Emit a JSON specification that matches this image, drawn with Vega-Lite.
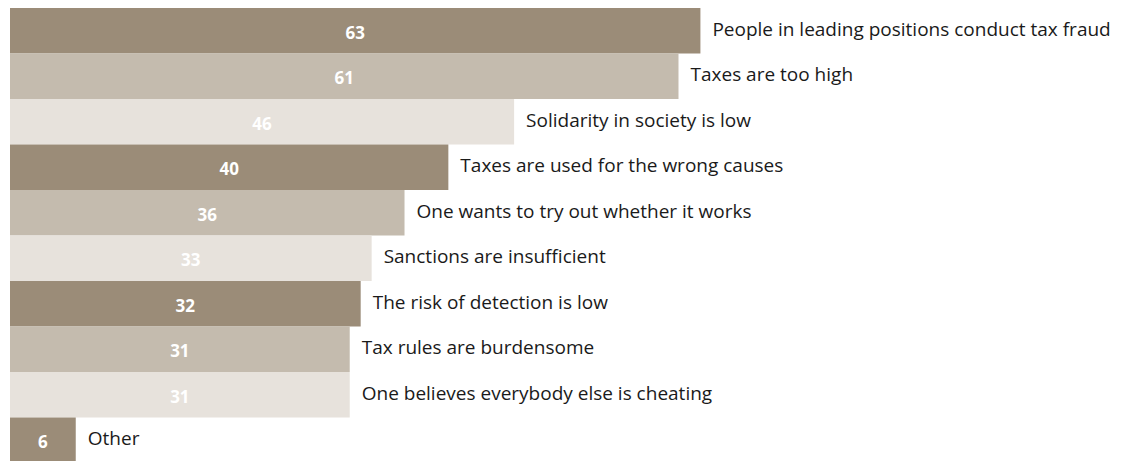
{
  "$schema": "https://vega.github.io/schema/vega-lite/v6.json",
  "width": 1120,
  "height": 455,
  "autosize": {"type": "none"},
  "padding": {"left": 10, "top": 8, "right": 0, "bottom": 0},
  "background": "white",
  "config": {"view": {"stroke": null}},
  "data": {
    "values": [
      {"order": 1, "label": "People in leading positions conduct tax fraud", "value": 63, "shade": "dark"},
      {"order": 2, "label": "Taxes are too high", "value": 61, "shade": "medium"},
      {"order": 3, "label": "Solidarity in society is low", "value": 46, "shade": "light"},
      {"order": 4, "label": "Taxes are used for the wrong causes", "value": 40, "shade": "dark"},
      {"order": 5, "label": "One wants to try out whether it works", "value": 36, "shade": "medium"},
      {"order": 6, "label": "Sanctions are insufficient", "value": 33, "shade": "light"},
      {"order": 7, "label": "The risk of detection is low", "value": 32, "shade": "dark"},
      {"order": 8, "label": "Tax rules are burdensome", "value": 31, "shade": "medium"},
      {"order": 9, "label": "One believes everybody else is cheating", "value": 31, "shade": "light"},
      {"order": 10, "label": "Other", "value": 6, "shade": "dark"}
    ]
  },
  "encoding": {
    "y": {
      "field": "label",
      "type": "nominal",
      "sort": {"field": "order", "order": "ascending"},
      "scale": {"paddingInner": 0, "paddingOuter": 0},
      "axis": null
    }
  },
  "resolve": {"scale": {"x": "independent"}},
  "layer": [
    {
      "layer": [
        {
          "mark": {"type": "bar", "cornerRadius": 0},
          "encoding": {
            "x": {"field": "value", "type": "quantitative", "scale": {"domain": [0, 102.2], "nice": false, "zero": true}, "axis": null},
            "color": {
              "field": "shade",
              "type": "nominal",
              "scale": {"domain": ["dark", "medium", "light"], "range": ["#9b8c78", "#c4bbae", "#e7e2dc"]},
              "legend": null
            }
          }
        },
        {
          "mark": {"type": "text", "align": "left", "baseline": "middle", "dx": 12, "dy": -1, "font": "Open Sans", "fontSize": 19, "color": "#1a1a1a"},
          "encoding": {
            "x": {"field": "value", "type": "quantitative"},
            "text": {"field": "label"}
          }
        }
      ]
    },
    {
      "mark": {"type": "text", "align": "center", "baseline": "middle", "dy": 3, "font": "Open Sans", "fontSize": 17, "fontWeight": "bold", "color": "white"},
      "encoding": {
        "x": {"field": "value", "type": "quantitative", "scale": {"domain": [0, 204.4], "nice": false, "zero": true}, "axis": null},
        "text": {"field": "value", "type": "quantitative"}
      }
    }
  ]
}
